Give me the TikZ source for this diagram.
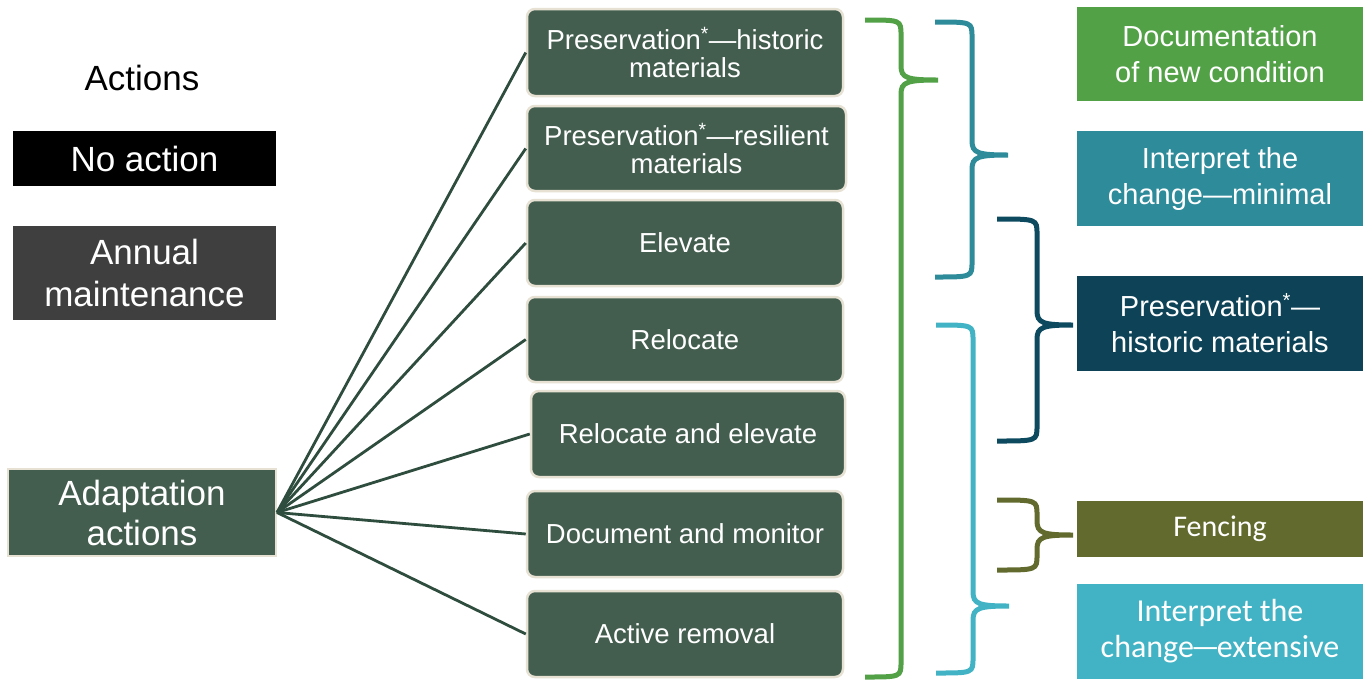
\documentclass[tikz,border=0pt]{standalone}
\usepackage{fontspec}
\setmainfont{Liberation Sans}
\newfontfamily\calib{Carlito}
\definecolor{boxgreen}{HTML}{435E4F}
\definecolor{boxedge}{HTML}{E6E1D3}
\definecolor{fanline}{HTML}{2F4D3E}
\definecolor{brgreen}{HTML}{52A147}
\definecolor{brteal}{HTML}{2E8B9A}
\definecolor{brnavy}{HTML}{0D4A60}
\definecolor{navybox}{HTML}{0D4257}
\definecolor{brcyan}{HTML}{42B3C4}
\definecolor{brolive}{HTML}{626A2E}
\definecolor{graybox}{HTML}{3F3F3F}
\newcommand\mybrace[7]{%
 \draw[#1, line width=5pt] (#2,#5) .. controls (#3,#5) .. (#3,#5+15) -- (#3,#6-14)
   .. controls (#3,#6-2) and (#3+6,#6) .. (#4,#6)
   .. controls (#3+6,#6) and (#3,#6+2) .. (#3,#6+14) -- (#3,#7-15)
   .. controls (#3,#7) .. (#2,#7);}
\tikzset{
 leftbox/.style={inner sep=0pt, text=white, align=center, minimum width=263pt,
   font=\fontsize{35}{42}\selectfont},
 midbox/.style={fill=boxgreen, draw=boxedge, line width=2.5pt, rounded corners=8pt,
   inner sep=0pt, text=white, align=center, minimum width=316pt, minimum height=86pt,
   font=\fontsize{27.5}{27.5}\selectfont},
 rightbox/.style={inner sep=0pt, text=white, align=center, minimum width=286pt,
   minimum height=95pt, font=\fontsize{29}{36}\selectfont},
 fan/.style={draw=fanline, line width=2.8pt}
}
\begin{document}
\begin{tikzpicture}[x=1pt,y=-1pt]
\useasboundingbox[fill=white] (0,0) rectangle (1364,681);
% left column
\node (actions) at (142,78) {\fontsize{35}{40}\selectfont Actions};
\node[leftbox, fill=black, minimum height=55pt] (noact) at (144.5,158.5) {No action};
\node[leftbox, fill=graybox, minimum height=94pt] (annual) at (144.5,273) {Annual\\maintenance};
\node[leftbox, fill=boxgreen, draw=boxedge, line width=2pt, minimum width=268pt, minimum height=87pt,
  font=\fontsize{35}{40}\selectfont] (adapt) at (142,512.5) {Adaptation\\actions};
% middle column
\node[midbox, minimum height=87pt] (m1) at (685,52.5) {Preservation\textsuperscript{*}—historic\\materials};
\node[midbox, minimum width=319pt, minimum height=85pt] (m2) at (686.5,148.5) {Preservation\textsuperscript{*}—resilient\\materials};
\node[midbox] (m3) at (685,243) {Elevate};
\node[midbox, minimum height=85pt] (m4) at (685,339.5) {Relocate};
\node[midbox, minimum width=314pt] (m5) at (688,434) {Relocate and elevate};
\node[midbox] (m6) at (685,534) {Document and monitor};
\node[midbox] (m7) at (685,634) {Active removal};
% fan connectors
\foreach \m in {m1,m2,m3,m4,m5,m6,m7} \draw[fan] (adapt.east) -- (\m.west);
% right column
\node[rightbox, fill=brgreen, minimum height=94pt] (r1) at (1220,54) {Documentation\\of new condition};
\node[rightbox, fill=brteal] (r2) at (1220,178.5) {Interpret the\\change—minimal};
\node[rightbox, fill=navybox] (r3) at (1220,323.5) {Preservation\textsuperscript{*}—\\historic materials};
\node[rightbox, fill=brolive, minimum height=56pt, font=\calib\fontsize{30}{36}\selectfont] (r4) at (1220,529) {Fencing};
\node[rightbox, fill=brcyan, font=\calib\fontsize{32}{36}\selectfont] (r5) at (1220,631.5) {Interpret the\\change\kern-3pt—\kern-3pt extensive};
% braces
\mybrace{brgreen}{865}{901}{938}{20}{80}{677}
\mybrace{brteal}{935}{972}{1008}{22}{155}{277}
\mybrace{brnavy}{997}{1037}{1073}{219}{325}{441}
\mybrace{brcyan}{936}{973}{1009}{325}{606}{673}
\mybrace{brolive}{997}{1037}{1073}{500}{535}{570}
\end{tikzpicture}
\end{document}
